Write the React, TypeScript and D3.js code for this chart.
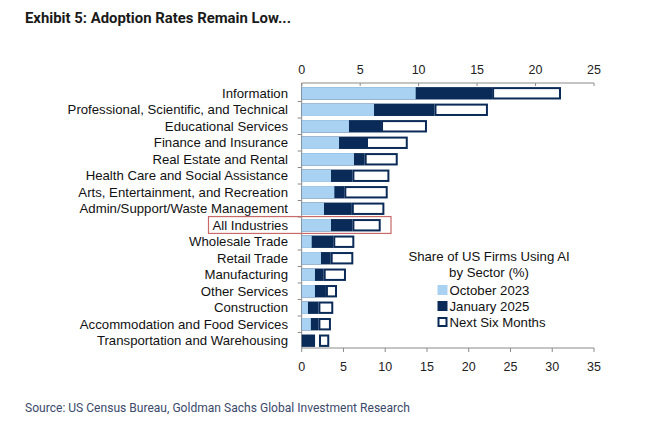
import React from "react";
import * as d3 from "d3";

const categories = [
  "Information",
  "Professional, Scientific, and Technical",
  "Educational Services",
  "Finance and Insurance",
  "Real Estate and Rental",
  "Health Care and Social Assistance",
  "Arts, Entertainment, and Recreation",
  "Admin/Support/Waste Management",
  "All Industries",
  "Wholesale Trade",
  "Retail Trade",
  "Manufacturing",
  "Other Services",
  "Construction",
  "Accommodation and Food Services",
  "Transportation and Warehousing",
];

const oct2023 = [13.65, 8.66, 5.66, 4.47, 6.26, 3.51, 3.91, 2.67, 3.51, 1.2, 2.31, 1.59, 1.59, 0.75, 1.1, 0];
const jan2025 = [22.8, 15.9, 9.5, 7.7, 7.54, 6.07, 5.1, 6.0, 6.07, 3.78, 3.47, 2.63, 2.9, 2.0, 2.0, 1.6];
const nextFrom = [22.8, 15.9, 9.5, 7.7, 7.54, 6.07, 5.1, 6.0, 6.07, 3.78, 3.47, 2.63, 2.9, 2.0, 2.0, 2.07];
const nextSix = [31.05, 22.3, 15.0, 12.7, 11.5, 10.5, 10.3, 9.9, 9.46, 6.3, 6.18, 5.3, 4.23, 3.78, 3.5, 3.3];

const bottomTicks = [0, 5, 10, 15, 20, 25, 30, 35];
const topTicks = [0, 5, 10, 15, 20, 25];
const legendLabels = ["October 2023", "January 2025", "Next Six Months"];
const highlighted = "All Industries";

const LIGHT = "#a9d2f2";
const DARK = "#0a2a57";
const AXIS = "#8a8a8a";

export default function App() {
  const W = 650, H = 423;
  const x0 = 301.7, x1 = 594;
  const yTop = 83, yBot = 348;
  const x = d3.scaleLinear().domain([0, 35]).range([x0, x1]);
  const xTop = d3.scaleLinear().domain([0, 25]).range([x0, x1]);
  const y = d3.scaleBand().domain(categories).range([84.8, 349.2]).paddingInner(0.25).paddingOuter(0.14);
  const step = y.step();
  const bw = y.bandwidth();
  const gap = step - bw;
  const font = "'Liberation Sans', Arial, sans-serif";
  const hi = categories.indexOf(highlighted);

  return (
    <svg width={W} height={H} style={{ position: "absolute", left: 0, top: 0, background: "#fff" }}>
      <rect x={0} y={0} width={W} height={H} fill="#ffffff" />
      <text x={25} y={23} fontFamily="'Roboto', sans-serif" fontWeight="bold" fontSize={15.5}
        fill="#1a1a1a" textLength={266} lengthAdjust="spacingAndGlyphs">
        Exhibit 5: Adoption Rates Remain Low...
      </text>

      {/* top axis */}
      <line x1={x0} x2={x1} y1={yTop} y2={yTop} stroke={AXIS} strokeWidth={1} />
      {topTicks.map((t) => (
        <g key={"tt" + t}>
          <line x1={xTop(t)} x2={xTop(t)} y1={yTop} y2={yTop + 3} stroke={AXIS} />
          <text x={xTop(t)} y={74} textAnchor="middle" fontFamily={font} fontSize={12.5} fill="#222">{t}</text>
        </g>
      ))}

      {/* bottom axis */}
      <line x1={x0} x2={x1} y1={yBot} y2={yBot} stroke={AXIS} strokeWidth={1} />
      {bottomTicks.map((t) => (
        <g key={"bt" + t}>
          <line x1={x(t)} x2={x(t)} y1={yBot} y2={yBot + 4} stroke={AXIS} />
          <text x={x(t)} y={370.5} textAnchor="middle" fontFamily={font} fontSize={12.5} fill="#222">{t}</text>
        </g>
      ))}

      {/* left axis */}
      <line x1={x0} x2={x0} y1={yTop} y2={yBot} stroke={AXIS} />
      {categories.slice(1).map((c) => {
        const ty = y(c)! - gap / 2;
        return <line key={"lt" + c} x1={x0 - 4} x2={x0} y1={ty} y2={ty} stroke={AXIS} />;
      })}

      {/* bars */}
      {categories.map((c, i) => {
        const yy = y(c)!;
        return (
          <g key={c}>
            <rect x={x(nextFrom[i]) + 1} y={yy + 1} width={Math.max(0, x(nextSix[i]) - x(nextFrom[i]) - 2)} height={bw - 2}
              fill="#fff" stroke={DARK} strokeWidth={2} />
            <rect x={x(0)} y={yy} width={x(jan2025[i]) - x(0)} height={bw} fill={DARK} />
            <rect x={x(0)} y={yy} width={x(oct2023[i]) - x(0)} height={bw} fill={LIGHT} />
            <text x={288} y={yy + bw / 2 + 4.7} textAnchor="end" fontFamily={font} fontSize={13.2} fill="#111">{c}</text>
          </g>
        );
      })}

      {/* highlight */}
      <rect x={208.5} y={y(categories[hi])! - 2.5} width={182.5} height={bw + 4.5} fill="none" stroke="#c86a6a" strokeWidth={1.2} />

      {/* legend */}
      <text x={489} y={260.5} textAnchor="middle" fontFamily={font} fontSize={13.2} fill="#111">Share of US Firms Using AI</text>
      <text x={489} y={276.5} textAnchor="middle" fontFamily={font} fontSize={13.2} fill="#111">by Sector (%)</text>
      {legendLabels.map((l, i) => {
        const ly = 290 + i * 16;
        return (
          <g key={l}>
            {i === 0 && <rect x={437.5} y={ly - 5} width={10} height={10} fill={LIGHT} />}
            {i === 1 && <rect x={437.5} y={ly - 5} width={10} height={10} fill={DARK} />}
            {i === 2 && <rect x={438.5} y={ly - 4} width={8} height={8} fill="#fff" stroke={DARK} strokeWidth={2} />}
            <text x={449.5} y={ly + 4.5} fontFamily={font} fontSize={13.2} fill="#111">{l}</text>
          </g>
        );
      })}

      <text x={25} y={411.5} fontFamily="'Roboto', sans-serif" fontSize={13.5} fill="#3b4a6b"
        textLength={385} lengthAdjust="spacingAndGlyphs">
        Source: US Census Bureau, Goldman Sachs Global Investment Research
      </text>
    </svg>
  );
}
